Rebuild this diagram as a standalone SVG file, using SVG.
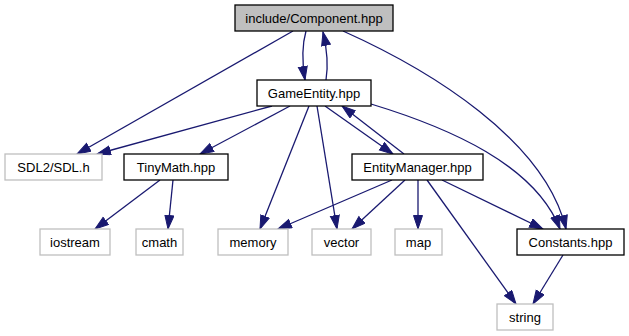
<svg xmlns="http://www.w3.org/2000/svg" width="629" height="336" viewBox="0 0 629 336">
  <style>
    .node rect { fill: #ffffff; stroke: #000000; stroke-width: 1.3; }
    .node.ext rect { stroke: #bfbfbf; }
    .node.root rect { fill: #bfbfbf; }
    .node text { font-family: "Liberation Sans", Arial, Helvetica, sans-serif; font-size: 13px; fill: #000000; text-anchor: middle; }
    .edges path { fill: none; stroke: #191970; stroke-width: 1.3; marker-end: url(#arrow); }
  </style>
  <defs>
    <marker id="arrow" markerUnits="userSpaceOnUse" markerWidth="15" markerHeight="11" refX="14" refY="5" orient="auto" viewBox="0 0 15 11">
      <path d="M0.5,0.5 L14,5 L0.5,9.5 Z" fill="#191970" stroke="#191970" stroke-width="1"/>
    </marker>
  </defs>
  <rect width="629" height="336" fill="#ffffff"/>

  <g class="edges">
    <path d="M306,31 C302,45 302,62 305,80"/>
    <path d="M326,80 C329,62 326,45 323,32"/>
    <path d="M293,31 L77,154"/>
    <path d="M343,31 C430,70 545,140 566,229"/>
    <path d="M272,106 L97,154"/>
    <path d="M290,106 L200,154"/>
    <path d="M309,106 L260,229"/>
    <path d="M317,106 L337,229"/>
    <path d="M325,106 L393,154"/>
    <path d="M404,154 L342,106"/>
    <path d="M371,104 C450,128 535,165 560,229"/>
    <path d="M160,180 L95,229"/>
    <path d="M173,180 L168,229"/>
    <path d="M392,180 L278,229"/>
    <path d="M405,180 L352,229"/>
    <path d="M418,180 L418,229"/>
    <path d="M427,180 L516,304"/>
    <path d="M442,180 L543,229"/>
    <path d="M563,255 L533,304"/>
  </g>

  <g id="component" class="node root">
    <rect x="235" y="5" width="158" height="26"/>
    <text x="314" y="22.5">include/Component.hpp</text>
  </g>
  <g id="gameentity" class="node">
    <rect x="257" y="80" width="114" height="26"/>
    <text x="314" y="97.5">GameEntity.hpp</text>
  </g>
  <g id="sdl" class="node ext">
    <rect x="5" y="154" width="97" height="26"/>
    <text x="53.5" y="171.5">SDL2/SDL.h</text>
  </g>
  <g id="tinymath" class="node">
    <rect x="124" y="154" width="104" height="26"/>
    <text x="176" y="171.5">TinyMath.hpp</text>
  </g>
  <g id="entitymanager" class="node">
    <rect x="352" y="154" width="131" height="26"/>
    <text x="417.5" y="171.5">EntityManager.hpp</text>
  </g>
  <g id="iostream" class="node ext">
    <rect x="40" y="229" width="70" height="26"/>
    <text x="75" y="246.5">iostream</text>
  </g>
  <g id="cmath" class="node ext">
    <rect x="136" y="229" width="47" height="26"/>
    <text x="159.5" y="246.5">cmath</text>
  </g>
  <g id="memory" class="node ext">
    <rect x="218" y="229" width="70" height="26"/>
    <text x="253" y="246.5">memory</text>
  </g>
  <g id="vector" class="node ext">
    <rect x="312" y="229" width="59" height="26"/>
    <text x="341.5" y="246.5">vector</text>
  </g>
  <g id="map" class="node ext">
    <rect x="395" y="229" width="47" height="26"/>
    <text x="418.5" y="246.5">map</text>
  </g>
  <g id="constants" class="node">
    <rect x="517" y="229" width="107" height="26"/>
    <text x="570.5" y="246.5">Constants.hpp</text>
  </g>
  <g id="string" class="node ext">
    <rect x="497" y="304" width="56" height="26"/>
    <text x="525" y="321.5">string</text>
  </g>
</svg>
